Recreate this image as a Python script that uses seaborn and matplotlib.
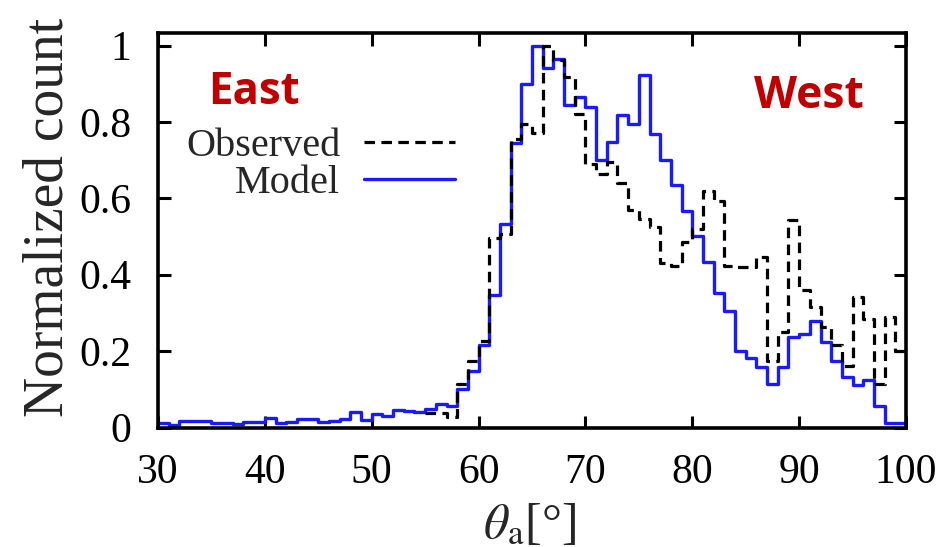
import numpy as np
import pandas as pd
import matplotlib
matplotlib.use("Agg")
import matplotlib.pyplot as plt
import seaborn as sns

# ---- data (1-degree bins, value per bin, starting at the given left edge) ----
model_start = 30
model_values = [0.012, 0.007, 0.016, 0.016, 0.016, 0.012, 0.012, 0.008, 0.014, 0.014,
                0.025, 0.013, 0.014, 0.021, 0.021, 0.015, 0.016, 0.023, 0.040, 0.020,
                0.036, 0.029, 0.045, 0.043, 0.040, 0.049, 0.062, 0.055, 0.101, 0.147,
                0.216, 0.346, 0.534, 0.745, 0.900, 0.998, 0.940, 0.965, 0.843, 0.866,
                0.838, 0.700, 0.748, 0.819, 0.794, 0.923, 0.768, 0.699, 0.635, 0.568,
                0.502, 0.433, 0.351, 0.305, 0.199, 0.182, 0.158, 0.115, 0.158, 0.237,
                0.246, 0.278, 0.225, 0.174, 0.132, 0.110, 0.124, 0.056, 0.011, 0.011]
observed_start = 55
observed_values = [0.037, 0.037, 0.027, 0.115, 0.174, 0.226, 0.497, 0.507, 0.755, 0.795,
                   0.772, 1.000, 0.962, 0.917, 0.820, 0.690, 0.664, 0.695, 0.640, 0.570,
                   0.547, 0.524, 0.430, 0.424, 0.485, 0.520, 0.620, 0.594, 0.424, 0.420,
                   0.420, 0.446, 0.175, 0.250, 0.544, 0.360, 0.315, 0.263, 0.217, 0.162,
                   0.341, 0.285, 0.114, 0.290, 0.200]
x_ticks = [30, 40, 50, 60, 70, 80, 90, 100]
y_ticks = [0, 0.2, 0.4, 0.6, 0.8, 1.0]
y_tick_labels = ["0", "0.2", "0.4", "0.6", "0.8", "1"]
series_labels = ["Observed", "Model"]

sns.set_theme(style="ticks")
plt.rcParams["font.family"] = ["Liberation Serif", "DejaVu Serif"]
plt.rcParams["mathtext.fontset"] = "stix"

W, H = 945, 547
fig = plt.figure(figsize=(W / 100, H / 100), dpi=100)
ax = fig.add_axes([158 / W, 1 - 427.5 / H, 748 / W, 394.2 / H])

model_edges = np.arange(model_start, model_start + len(model_values) + 1, dtype=float)
obs_edges = np.arange(observed_start, observed_start + len(observed_values) + 1, dtype=float)
model_df = pd.DataFrame({"theta": model_edges[:-1] + 0.5, "count": model_values})
obs_df = pd.DataFrame({"theta": obs_edges[:-1] + 0.5, "count": observed_values})

sns.histplot(data=model_df, x="theta", weights="count", bins=list(model_edges),
             element="step", fill=False, color="#1a1aff", linewidth=2.4, ax=ax, zorder=2)
model_line = ax.lines[-1]
sns.histplot(data=obs_df, x="theta", weights="count", bins=list(obs_edges),
             element="step", fill=False, color="black", linewidth=2.3,
             linestyle=(0, (3.3, 2.0)), ax=ax, zorder=3)
obs_line = ax.lines[-1]

ax.set_xlim(30, 100)
ax.set_ylim(0, 1.032)
ax.set_xticks(x_ticks)
ax.set_yticks(y_ticks)
ax.set_yticklabels(y_tick_labels)
ax.tick_params(axis="both", direction="in", length=9, width=2.2, top=True, right=True,
               labelsize=30, colors="black", pad=19)
for s in ax.spines.values():
    s.set_linewidth(2.6)
    s.set_color("black")

ax.set_ylabel("Normalized count", fontsize=40)
ax.yaxis.set_label_coords(-0.111, 0.533)
ax.set_xlabel(r"$\theta_{\mathrm{a}}$[°]", fontsize=36)
ax.xaxis.set_label_coords(0.497, -0.19)

leg = ax.legend(handles=[obs_line, model_line], labels=series_labels,
                loc="upper right", bbox_to_anchor=(0.397, 0.760), frameon=False,
                markerfirst=False, fontsize=29, handlelength=2.25, handletextpad=0.6,
                labelspacing=0.0, borderpad=0, borderaxespad=0)

ax.text(34.7, 0.847, "East", fontsize=31.5, fontweight="bold", color="#c00000",
        family=["Open Sans", "DejaVu Sans"], ha="left", va="baseline")
ax.text(96.0, 0.836, "West", fontsize=32, fontweight="bold", color="#c00000",
        family=["Open Sans", "DejaVu Sans"], ha="right", va="baseline")

fig.savefig("out.png", dpi=100)
